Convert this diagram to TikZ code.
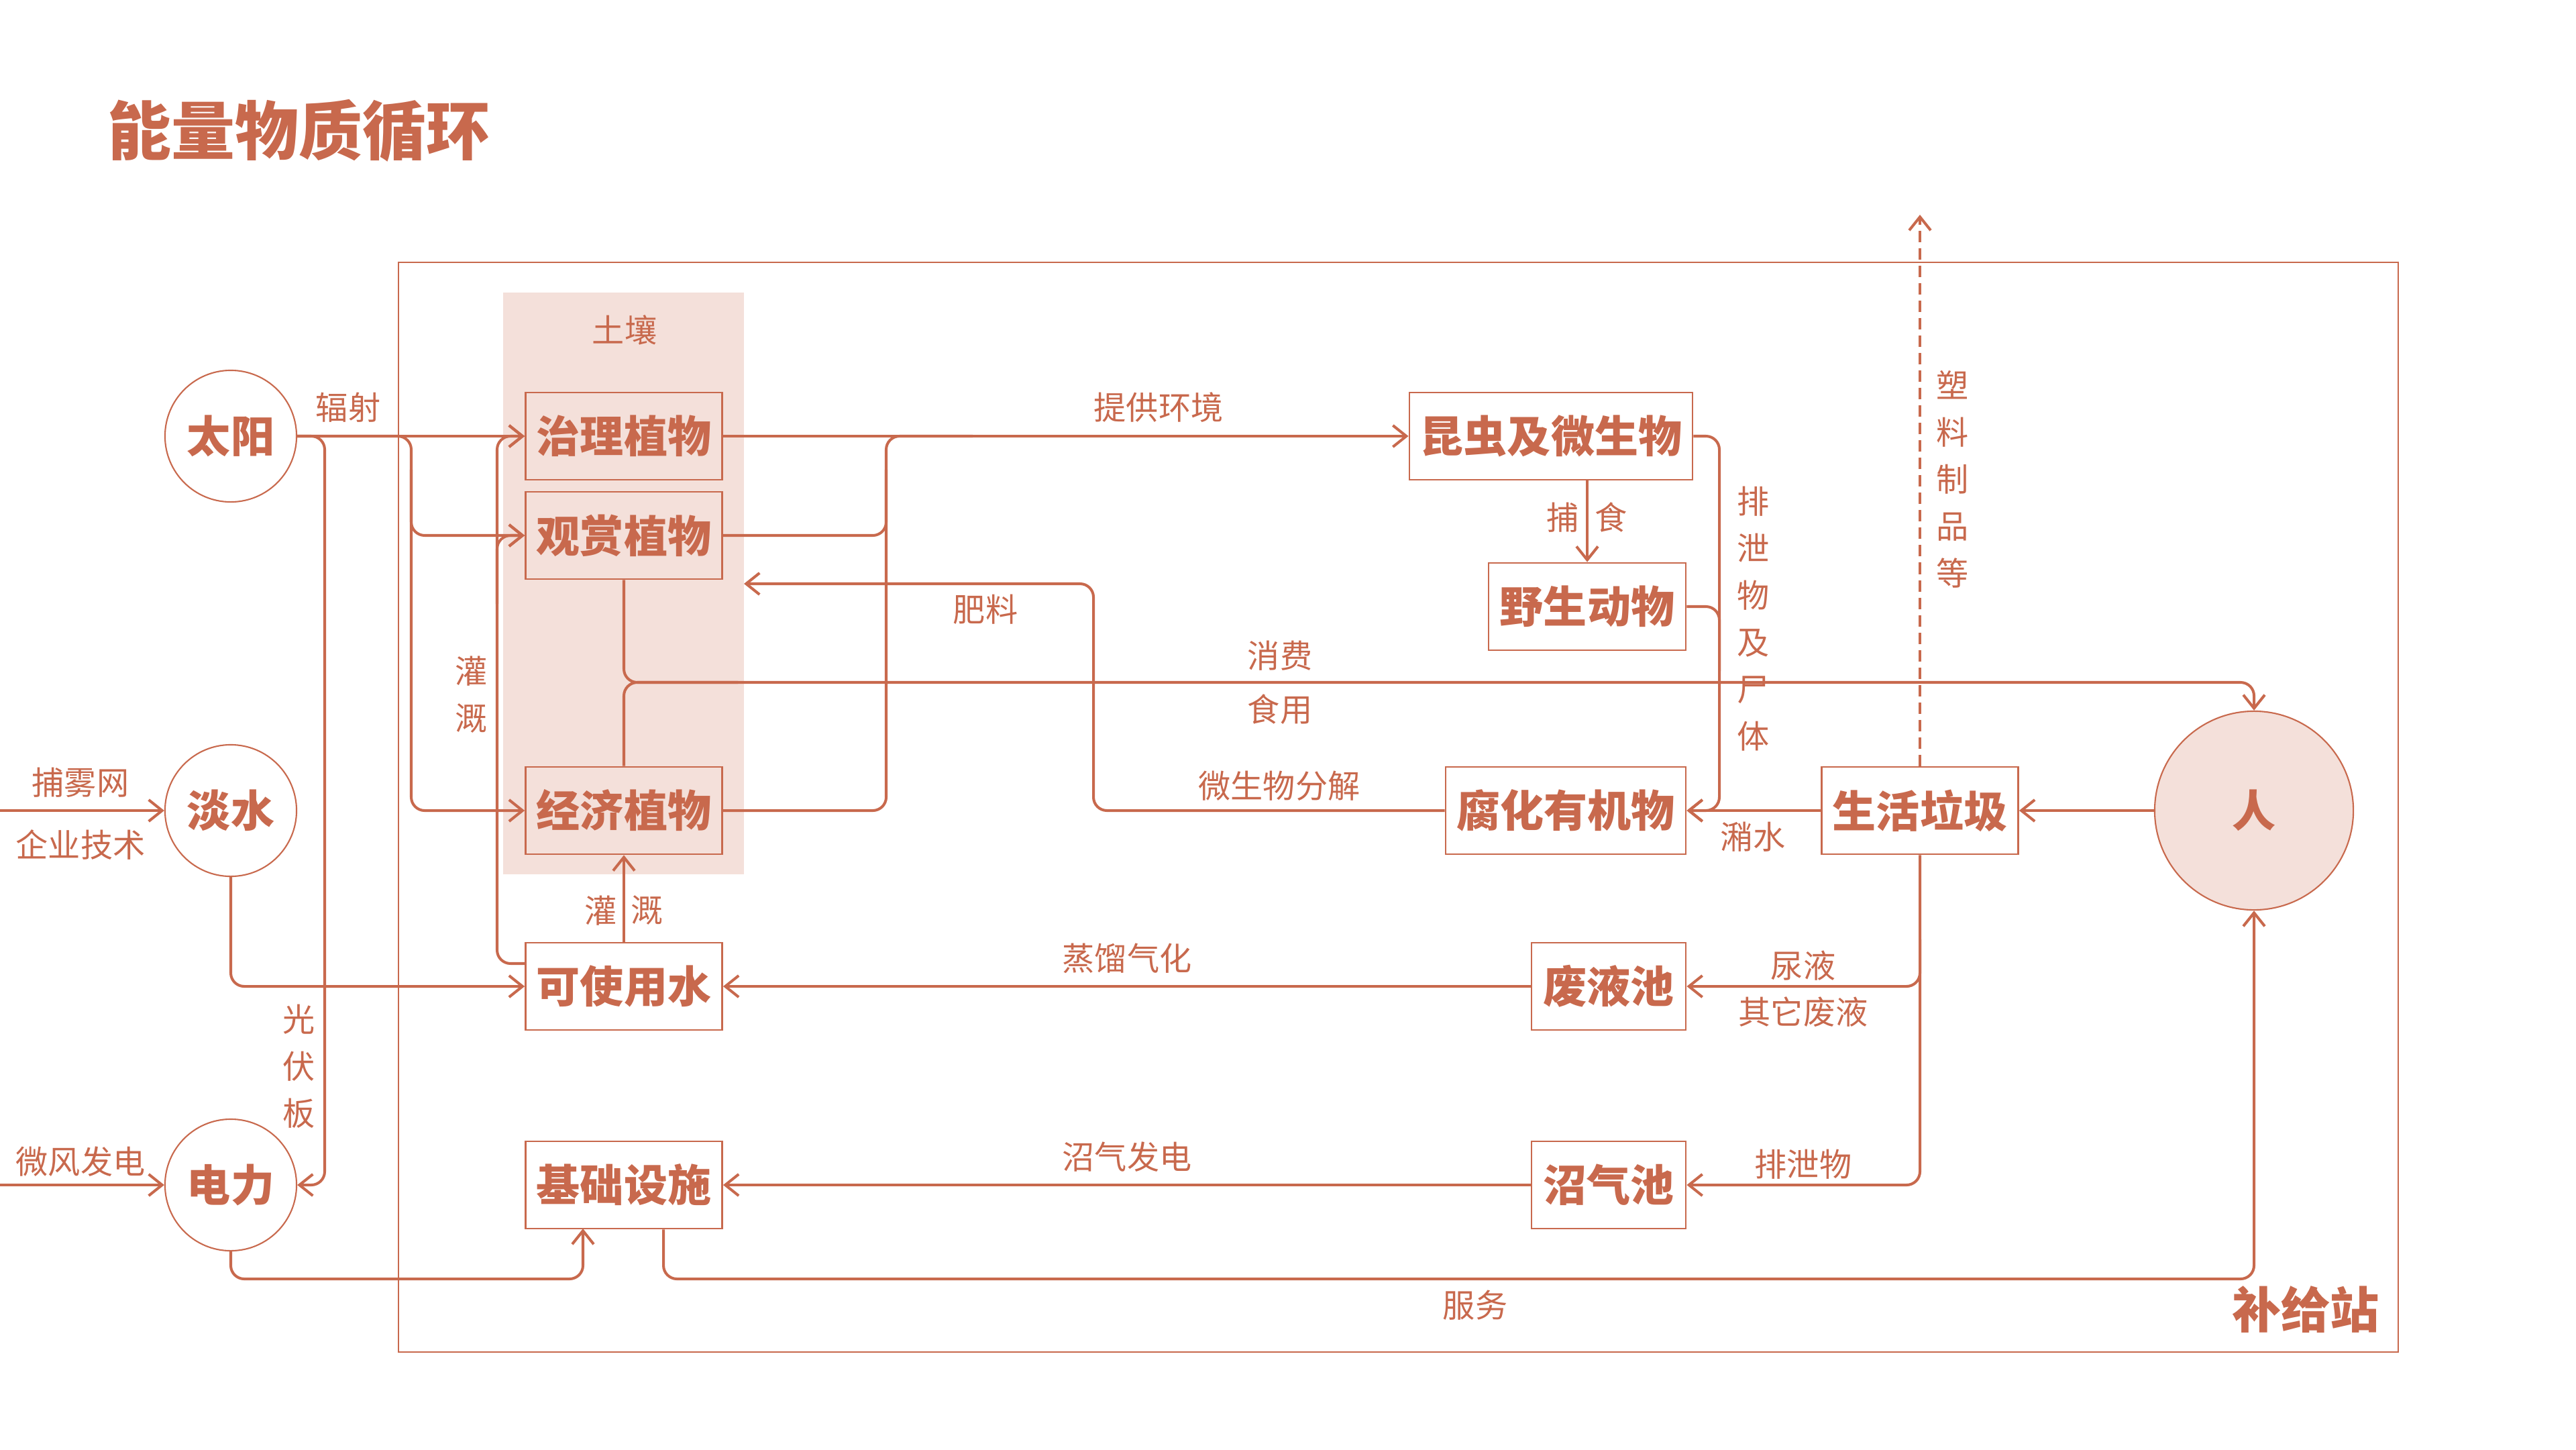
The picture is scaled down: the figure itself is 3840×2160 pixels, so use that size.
\documentclass[tikz,border=0pt]{standalone}
\usepackage{fontspec}
\setmainfont{Noto Sans CJK SC}
\usetikzlibrary{arrows.meta}
\definecolor{terra}{HTML}{C8694D}
\definecolor{soilpink}{HTML}{F4E0DA}
\tikzset{
  box/.style={draw=terra, line width=0.75pt, rectangle, minimum height=1.30cm, inner sep=0pt, text=terra, font=\fontsize{18.5pt}{22pt}\selectfont\bfseries},
  circ/.style={draw=terra, line width=0.6pt, circle, minimum size=1.96cm, inner sep=0pt, text=terra, font=\fontsize{18.5pt}{22pt}\selectfont\bfseries},
  conn/.style={draw=terra, line width=1.15pt, rounded corners=2mm},
  arr/.style={-{Straight Barb[length=2mm,width=3.2mm]}},
  lbl/.style={text=terra, inner sep=0pt, font=\fontsize{13.7pt}{19.9pt}\selectfont, align=center},
}
\begin{document}
\begin{tikzpicture}[x=0.01cm, y=-0.01cm]
\useasboundingbox (0,0) rectangle (3840,2160);
% soil and frame
\fill[soilpink] (750,436) rectangle (1109,1303);
\draw[terra, line width=0.6pt] (594,391) rectangle (3575,2015);
% title
\node[anchor=west, text=terra, inner sep=0pt, font=\fontsize{27pt}{30pt}\selectfont\bfseries] (title) at (160,195) {能量物质循环};
% circles
\node[circ] (taiyang) at (344,650) {太阳};
\node[circ] (danshui) at (344,1208) {淡水};
\node[circ] (dianli) at (344,1766) {电力};
\node[circ, fill=soilpink, minimum size=2.96cm] (ren) at (3360,1208) {人};
% boxes
\node[box, minimum width=2.93cm] (zhili) at (930,650) {治理植物};
\node[box, minimum width=2.93cm] (guanshang) at (930,798) {观赏植物};
\node[box, minimum width=2.93cm] (jingji) at (930,1208) {经济植物};
\node[box, minimum width=2.93cm] (shiyong) at (930,1470) {可使用水};
\node[box, minimum width=2.93cm] (jichu) at (930,1766) {基础设施};
\node[box, minimum width=4.22cm] (kunchong) at (2312,650) {昆虫及微生物};
\node[box, minimum width=2.94cm] (yesheng) at (2366,904) {野生动物};
\node[box, minimum width=3.58cm] (fuhua) at (2334,1208) {腐化有机物};
\node[box, minimum width=2.93cm] (laji) at (2862,1208) {生活垃圾};
\node[box, minimum width=2.30cm] (feiye) at (2398,1470) {废液池};
\node[box, minimum width=2.30cm] (zhaoqi) at (2398,1766) {沼气池};
% free-end coordinates
\coordinate (inA) at (0,1208);
\coordinate (inB) at (0,1766);
\coordinate (feiliao) at (1109,870);
\coordinate (outward) at (2862,320);
% radiation
\draw[conn,arr] (taiyang.east) -- (zhili.west);
\draw[conn,arr] (taiyang.east) -- (484,650) |- (dianli.east);
\draw[conn,arr] (taiyang.east) -- (613,650) |- (jingji.west);
\draw[conn,arr] (613,700) |- (guanshang.west);
% irrigation left
\draw[conn,arr] ([yshift=0.34cm]shiyong.west) -- (741,1436) |- (zhili.west);
\draw[conn,arr] (741,900) |- (guanshang.west);
% fresh water
\draw[conn,arr] (danshui.south) |- (shiyong.west);
\draw[conn,arr] (inA) -- (danshui.west);
\draw[conn,arr] (inB) -- (dianli.west);
% electricity to infrastructure
\draw[conn,arr] (dianli.south) |- (869,1906) -- (869,1831);
% service
\draw[conn,arr] ([xshift=0.59cm]jichu.south) |- (3360,1906) -- (ren.south);
% irrigation up
\draw[conn,arr] (shiyong.north) -- (jingji.south);
% consumption
\draw[conn,arr] (guanshang.south) |- (3360,1017) -- (ren.north);
\draw[conn] (jingji.north) |- (1100,1017);
% environment
\draw[conn,arr] (zhili.east) -- (kunchong.west);
\draw[conn] (guanshang.east) -| (1321,700);
\draw[conn] (jingji.east) -| (1321,650) -- (1450,650);
% fertilizer
\draw[conn,arr] (fuhua.west) -- (1630,1208) |- (feiliao);
% excretion
\draw[conn,arr] (kunchong.east) -- (2563,650) |- (fuhua.east);
\draw[conn] (yesheng.east) -| (2563,1000);
% predation
\draw[conn,arr] (yesheng.north |- kunchong.south) -- (yesheng.north);
% swill
\draw[conn,arr] (laji.west) -- (fuhua.east);
\draw[conn,arr] (ren.west) -- (laji.east);
% waste down
\draw[conn,arr] (laji.south) |- (zhaoqi.east);
\draw[conn,arr] (2862,1400) |- (feiye.east);
\draw[conn,arr,dash pattern=on 0.17cm off 0.09cm] (laji.north) -- (outward);
% bottom flows
\draw[conn,arr] (feiye.west) -- (shiyong.east);
\draw[conn,arr] (zhaoqi.west) -- (jichu.east);
% labels
\node[lbl] (l1) at (931,492) {土壤};
\node[lbl] (l2) at (519,607) {辐射};
\node[lbl] (l3) at (120,1166) {捕雾网};
\node[lbl] (l4) at (120,1259) {企业技术};
\node[lbl] (l5) at (120,1731) {微风发电};
\node[lbl] (l6) at (446,1589) {光\\伏\\板};
\node[lbl] (l7) at (703,1035) {灌\\溉};
\node[lbl] (l8) at (896,1357) {灌};
\node[lbl] (l9) at (965,1357) {溉};
\node[lbl] (l10) at (1727,607) {提供环境};
\node[lbl] (l11) at (1469,908) {肥料};
\node[lbl] (l12) at (1908,977) {消费};
\node[lbl] (l13) at (1908,1057) {食用};
\node[lbl] (l14) at (1907,1171) {微生物分解};
\node[lbl] (l15) at (2330,771) {捕};
\node[lbl] (l16) at (2402,771) {食};
\node[lbl] (l17) at (2614,922) {排\\泄\\物\\及\\尸\\体};
\node[lbl] (l18) at (2911,714) {塑\\料\\制\\品\\等};
\node[lbl] (l19) at (2613,1247) {潲水};
\node[lbl] (l20) at (2688,1439) {尿液};
\node[lbl] (l21) at (2688,1508) {其它废液};
\node[lbl] (l22) at (2688,1735) {排泄物};
\node[lbl] (l23) at (1680,1428) {蒸馏气化};
\node[lbl] (l24) at (1680,1724) {沼气发电};
\node[lbl] (l25) at (2199,1945) {服务};
\node[text=terra, inner sep=0pt, font=\fontsize{20.8pt}{24pt}\selectfont\bfseries] (station) at (3437,1952) {补给站};
\end{tikzpicture}
\end{document}
